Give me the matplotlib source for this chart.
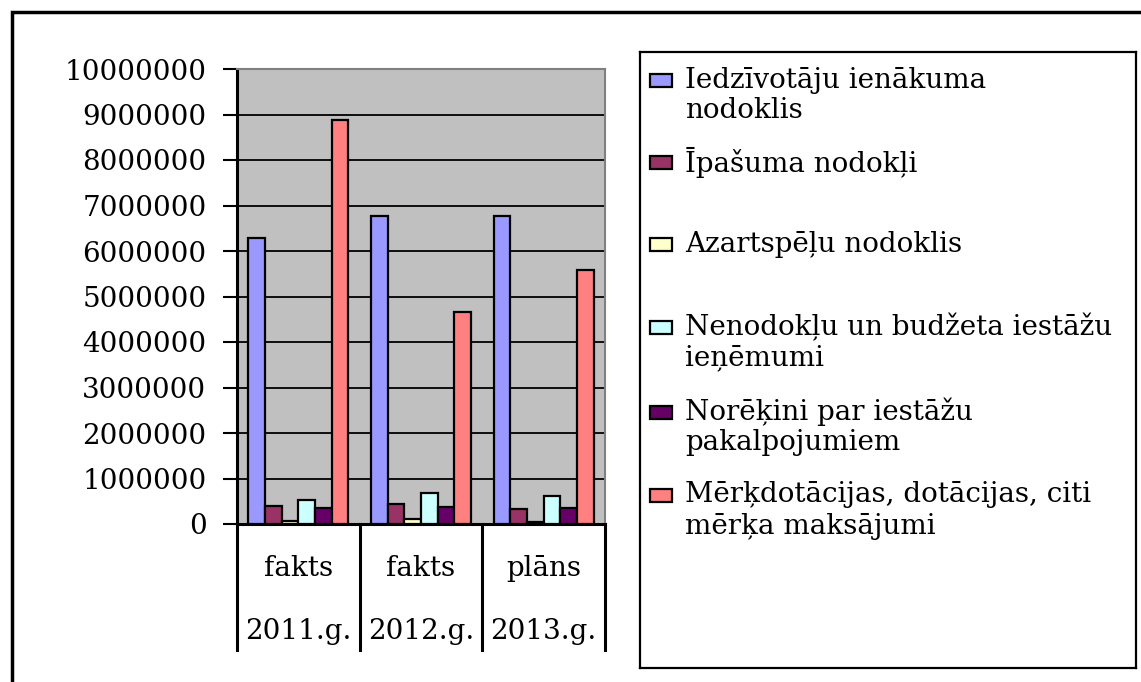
import numpy as np
import matplotlib.pyplot as plt
from matplotlib.patches import Rectangle
from matplotlib import transforms

plt.rcParams['font.family'] = ['DejaVu Serif']

# === dati ===
groups = ['fakts', 'fakts', 'plāns']
years = ['2011.g.', '2012.g.', '2013.g.']
series = ['Iedzīvotāju ienākuma\nnodoklis',
          'Īpašuma nodokļi',
          'Azartspēļu nodoklis',
          'Nenodokļu un budžeta iestāžu\nieņēmumi',
          'Norēķini par iestāžu\npakalpojumiem',
          'Mērķdotācijas, dotācijas, citi\nmērķa maksājumi']
colors = ['#9999FF', '#993366', '#FFFFCC', '#CCFFFF', '#660066', '#FF8080']

iedz = [6280000, 6760000, 6760000]
ipas = [400000, 450000, 340000]
azart = [60000, 120000, 50000]
nenod = [520000, 690000, 620000]
norek = [350000, 380000, 350000]
merk = [8870000, 4650000, 5590000]
values = [iedz, ipas, azart, nenod, norek, merk]

FS = 20
W, H = 1141, 682
fig = plt.figure(figsize=(W / 100, H / 100), dpi=100)

# ārējais rāmis
fig.patches.append(Rectangle((12 / W, -0.2), 1.5, 1.2 - 12 / H, transform=fig.transFigure,
                             fill=False, edgecolor='black', lw=2.5))

# === grafiks ===
ax = fig.add_axes([237 / W, 1 - 524 / H, (605 - 237) / W, (524 - 69) / H])
ax.set_facecolor('#C0C0C0')
bw = 0.136
x = np.arange(len(groups))
for j, (vals, col) in enumerate(zip(values, colors)):
    ax.bar(x + 0.5 + (j - 2.5) * bw, vals, width=bw, color=col,
           edgecolor='black', linewidth=1.6, zorder=3)

ax.set_xlim(0, 3)
ax.set_ylim(0, 10000000)
yt = np.arange(0, 10000001, 1000000)
ax.set_yticks(yt)
ax.set_yticklabels([str(v) for v in yt], fontsize=FS)
ax.tick_params(axis='y', length=10, width=1.5, pad=12)
ax.set_xticks([])
ax.yaxis.grid(True, color='black', lw=1.3)
ax.set_axisbelow(True)
for s in ['left', 'bottom']:
    ax.spines[s].set_color('black')
    ax.spines[s].set_linewidth(2.2)
for s in ['top', 'right']:
    ax.spines[s].set_color('#808080')
    ax.spines[s].set_linewidth(1.5)

# kategoriju ass ar diviem līmeņiem
tr = transforms.blended_transform_factory(ax.transData, ax.transAxes)
for b in range(len(groups) + 1):
    ax.plot([b, b], [0, -0.277], transform=tr, color='black', lw=2.2, clip_on=False)
for i in range(len(groups)):
    ax.text(i + 0.5, -0.097, groups[i], transform=tr, ha='center', va='center', fontsize=FS)
    ax.text(i + 0.5, -0.237, years[i], transform=tr, ha='center', va='center', fontsize=FS)

# === leģenda ===
lx0, ly0, lx1, ly1 = 640, 52, 1136, 668
lax = fig.add_axes([lx0 / W, 1 - ly1 / H, (lx1 - lx0) / W, (ly1 - ly0) / H])
lax.set_xlim(0, lx1 - lx0)
lax.set_ylim(ly1 - ly0, 0)
lax.set_xticks([])
lax.set_yticks([])
for s in lax.spines.values():
    s.set_linewidth(1.6)
    s.set_color('black')
row_y = [28, 110, 192, 275, 360, 443]
for name, col, y0 in zip(series, colors, row_y):
    lax.add_patch(Rectangle((10, y0 - 6), 22, 13, facecolor=col, edgecolor='black', lw=1.6))
    for k, line in enumerate(name.split('\n')):
        lax.text(45, y0 + k * 31, line, ha='left', va='center', fontsize=FS, clip_on=True)

fig.savefig('out.png', dpi=100)
